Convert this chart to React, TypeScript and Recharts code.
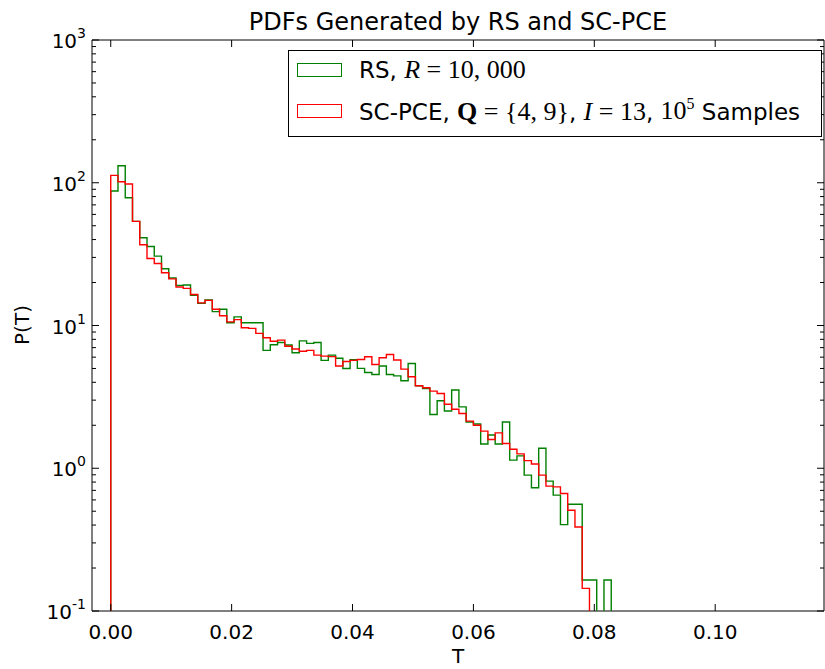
import { LineChart, Line, XAxis, YAxis, ReferenceArea, Legend } from "recharts"

const BIN_WIDTH = 0.0012

// RS, R = 10,000 -- bin heights, bins start at T = 0
const rsDensity = [
  87.5, 131.6, 78.5, 53.6, 41.2, 35.8, 30.6, 25.0, 21.5, 19.1,
  19.2, 16.3, 14.3, 15.1, 12.5, 13.0, 10.45, 11.5, 10.45, 10.45,
  10.45, 6.7, 7.33, 7.6, 7.3, 6.45, 7.8, 7.5, 7.6, 5.7,
  6.2, 5.9, 5.0, 5.75, 5.01, 4.69, 4.54, 5.2, 4.54, 4.44,
  4.1, 5.42, 3.78, 3.62, 2.38, 2.97, 2.52, 3.53, 2.69, 2.11,
  2.04, 1.48, 1.71, 1.48, 2.11, 1.14, 1.22, 0.895, 0.73, 1.38,
  0.813, 0.648, 0.403, 0.56, 0.56, 0.165, 0.165, 0, 0.165,
]

// SC-PCE, 10^5 samples
const pceDensity = [
  112.7, 101.6, 98, 53.6, 36.8, 29.5, 27.2, 23.4, 21.2, 18.6,
  18.2, 16.5, 14.4, 15.0, 13.0, 11.7, 10.6, 11.0, 9.64, 9.54,
  8.81, 8.2, 7.75, 7.9, 7.15, 6.84, 6.6, 6.7, 6.2, 6.1,
  6.05, 5.2, 5.6, 5.7, 5.78, 6.04, 5.33, 5.94, 6.27, 5.73,
  4.95, 4.37, 3.78, 3.66, 3.47, 3.34, 2.81, 2.59, 2.42, 2.14,
  2.0, 1.82, 1.59, 1.77, 1.49, 1.36, 1.26, 1.13, 1.07, 0.895,
  0.75, 0.741, 0.666, 0.508, 0.388, 0.144,
]

const xTicks = [0, 0.02, 0.04, 0.06, 0.08, 0.1]
const xTickLabels = ["0.00", "0.02", "0.04", "0.06", "0.08", "0.10"]
const yDecades = [0.1, 1, 10, 100, 1000]
const yExponents = ["-1", "0", "1", "2", "3"]
const X_DOMAIN = [-0.0031, 0.118]
const Y_DOMAIN = [0.1, 1000]

const SANS = "'DejaVu Sans', sans-serif"
const SERIF = "'Liberation Serif', 'DejaVu Serif', serif"

const W = 825
const H = 669
const PLOT_LEFT = 92
const PLOT_RIGHT = 824
const PLOT_TOP = 40
const PLOT_BOTTOM = 611
const MAJOR = 7
const MINOR = 4
const TICK_FONT = 20

// floor for empty bins / outline ends (below the axis, gets clipped)
const FLOOR = 0.01

function toSteps(values: number[]) {
  const pts = [{ t: 0, p: FLOOR }]
  values.forEach((v, i) => pts.push({ t: i * BIN_WIDTH, p: v > 0 ? v : FLOOR }))
  const end = values.length * BIN_WIDTH
  pts.push({ t: end, p: values[values.length - 1] })
  pts.push({ t: end, p: FLOOR })
  return pts
}

const rsSteps = toSteps(rsDensity)
const pceSteps = toSteps(pceDensity)

// major + minor ticks for the log axis
const yTicks: number[] = []
yDecades.forEach((d, i) => {
  yTicks.push(d)
  if (i < yDecades.length - 1) for (let m = 2; m <= 9; m++) yTicks.push(d * m)
})

function XTick(props: any) {
  const { x, index } = props
  return (
    <g>
      <line x1={x} x2={x} y1={PLOT_BOTTOM} y2={PLOT_BOTTOM - MAJOR} stroke="#000" />
      <line x1={x} x2={x} y1={PLOT_TOP} y2={PLOT_TOP + MAJOR} stroke="#000" />
      <text x={x} y={PLOT_BOTTOM + 28} textAnchor="middle" fontSize={TICK_FONT} fontFamily={SANS} fill="#000">
        {xTickLabels[index]}
      </text>
    </g>
  )
}

function YTick(props: any) {
  const { y, payload } = props
  const v = payload.value as number
  const di = yDecades.findIndex((d) => Math.abs(d - v) / d < 1e-9)
  const len = di >= 0 ? MAJOR : MINOR
  return (
    <g>
      <line x1={PLOT_LEFT} x2={PLOT_LEFT + len} y1={y} y2={y} stroke="#000" />
      <line x1={PLOT_RIGHT - len} x2={PLOT_RIGHT} y1={y} y2={y} stroke="#000" />
      {di >= 0 && (
        <text x={PLOT_LEFT - 6} y={y + 8} textAnchor="end" fontSize={TICK_FONT} fontFamily={SANS} fill="#000">
          <tspan>10</tspan>
          <tspan dy={-10} fontSize={14}>{yExponents[di]}</tspan>
        </text>
      )}
    </g>
  )
}

const mathStyle = { fontFamily: SERIF, fontSize: 26 }

const labels: Record<string, any> = {
  RS: (
    <>
      RS, <span style={{ ...mathStyle, fontStyle: "italic" }}>R</span>
      <span style={mathStyle}> = 10, 000</span>
    </>
  ),
  "SC-PCE": (
    <>
      SC-PCE, <span style={{ ...mathStyle, fontWeight: "bold" }}>Q</span>
      <span style={mathStyle}> = {"{"}4, 9{"}"}</span>,{" "}
      <span style={{ ...mathStyle, fontStyle: "italic" }}>I</span>
      <span style={mathStyle}> = 13</span>,{" "}
      <span style={mathStyle}>
        10<sup style={{ fontSize: 16 }}>5</sup>
      </span>{" "}
      Samples
    </>
  ),
}

function LegendBox(props: any) {
  const payload = props.payload || []
  return (
    <div
      style={{
        width: 532,
        height: 85,
        border: "1px solid #000",
        background: "#fff",
        position: "relative",
        fontFamily: SANS,
        fontSize: 23,
        color: "#000",
      }}
    >
      {payload.map((entry: any, i: number) => (
        <div
          key={entry.value}
          style={{
            position: "absolute",
            left: 0,
            top: 4 + i * 41,
            height: 30,
            display: "flex",
            alignItems: "center",
            whiteSpace: "nowrap",
          }}
        >
          <span
            style={{
              display: "inline-block",
              marginLeft: 8,
              width: 43,
              height: 12,
              border: `1.5px solid ${entry.color}`,
            }}
          />
          <span style={{ marginLeft: 17 }}>{labels[entry.value]}</span>
        </div>
      ))}
    </div>
  )
}

export default function App() {
  return (
    <div style={{ position: "absolute", left: 0, top: 0, width: W, height: H, background: "#fff" }}>
      <LineChart width={W} height={H} margin={{ top: PLOT_TOP, right: W - PLOT_RIGHT, bottom: 28, left: 0 }}>
        <XAxis
          type="number"
          dataKey="t"
          domain={X_DOMAIN}
          allowDataOverflow
          ticks={xTicks}
          interval={0}
          tick={<XTick />}
          tickLine={false}
          axisLine={false}
          height={30}
        />
        <YAxis
          type="number"
          scale="log"
          domain={Y_DOMAIN}
          allowDataOverflow
          ticks={yTicks}
          interval={0}
          tick={<YTick />}
          tickLine={false}
          axisLine={false}
          width={PLOT_LEFT}
        />
        <ReferenceArea
          x1={X_DOMAIN[0]}
          x2={X_DOMAIN[1]}
          y1={Y_DOMAIN[0]}
          y2={Y_DOMAIN[1]}
          fill="none"
          stroke="#000"
          strokeWidth={1}
          ifOverflow="visible"
        />
        <Line
          data={rsSteps}
          dataKey="p"
          name="RS"
          type="stepAfter"
          stroke="#008000"
          strokeWidth={1.4}
          dot={false}
          activeDot={false}
          isAnimationActive={false}
        />
        <Line
          data={pceSteps}
          dataKey="p"
          name="SC-PCE"
          type="stepAfter"
          stroke="#ff0000"
          strokeWidth={1.4}
          dot={false}
          activeDot={false}
          isAnimationActive={false}
        />
        <Legend
          verticalAlign="middle"
          align="center"
          layout="horizontal"
          wrapperStyle={{ left: 288, top: 50, width: 534, height: 87 }}
          content={<LegendBox />}
        />
      </LineChart>
      <div
        style={{
          position: "absolute",
          left: PLOT_LEFT,
          width: PLOT_RIGHT - PLOT_LEFT,
          top: 8,
          lineHeight: "normal",
          textAlign: "center",
          fontFamily: SANS,
          fontSize: 24,
        }}
      >
        PDFs Generated by RS and SC-PCE
      </div>
      <div
        style={{
          position: "absolute",
          left: PLOT_LEFT,
          width: PLOT_RIGHT - PLOT_LEFT,
          top: 644,
          textAlign: "center",
          fontFamily: SANS,
          fontSize: 20,
        }}
      >
        T
      </div>
      <div
        style={{
          position: "absolute",
          left: 22,
          top: 325,
          transform: "translate(-50%, -50%) rotate(-90deg)",
          fontFamily: SANS,
          fontSize: 20,
          whiteSpace: "nowrap",
        }}
      >
        P(T)
      </div>
    </div>
  )
}
